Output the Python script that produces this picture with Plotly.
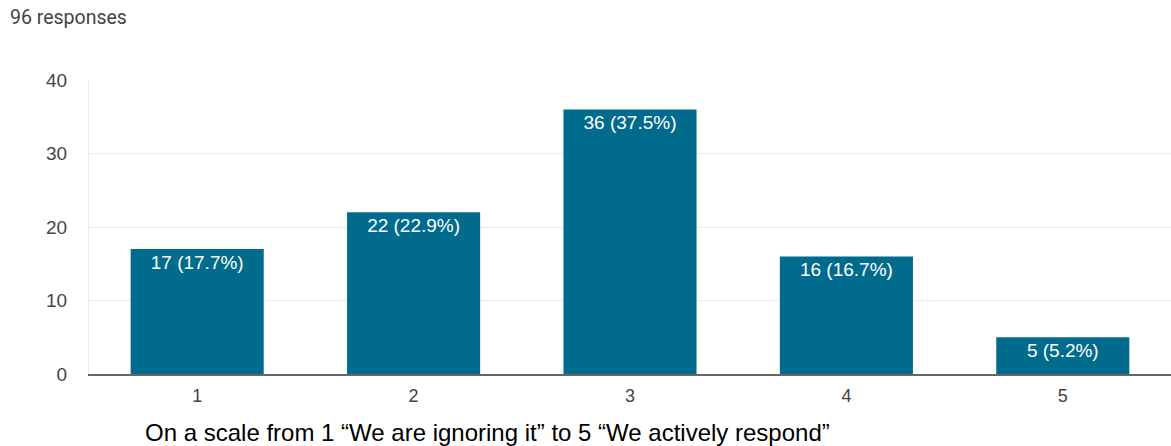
import plotly.graph_objects as go

categories = ["1", "2", "3", "4", "5"]
counts = [17, 22, 36, 16, 5]
percents = [17.7, 22.9, 37.5, 16.7, 5.2]
labels = [f"{c} ({p}%)" for c, p in zip(counts, percents)]
y_ticks = [0, 10, 20, 30, 40]
response_note = "96 responses"
x_title = "On a scale from 1 \u201cWe are ignoring it\u201d to 5 \u201cWe actively respond\u201d"

W, H = 1171, 446
ml, mr, mt, mb = 89, 0, 80, 72
ARIAL = "Liberation Sans, Arial"

fig = go.Figure(go.Bar(
    x=categories, y=counts, text=labels,
    textposition="inside", insidetextanchor="end",
    textfont=dict(family=ARIAL, size=19, color="white"),
    marker=dict(color="#006b8c", line=dict(width=0)),
    width=0.615, cliponaxis=False,
))

fig.update_layout(
    width=W, height=H,
    margin=dict(l=ml, r=mr, t=mt, b=mb, pad=0),
    plot_bgcolor="white", paper_bgcolor="white",
    showlegend=False,
    uniformtext=dict(minsize=19, mode="show"),
    xaxis=dict(
        type="category", range=[-0.5, 4.5],
        tickfont=dict(family=ARIAL, size=18, color="#444444"),
        showgrid=False, ticks="outside", ticklen=4, tickcolor="rgba(0,0,0,0)",
        showline=True, linecolor="#666666", linewidth=2,
        zeroline=False,
    ),
    yaxis=dict(
        range=[0, 40], tickvals=y_ticks,
        tickfont=dict(family=ARIAL, size=19, color="#444444"),
        showgrid=True, gridcolor="#ebebeb", gridwidth=1,
        zeroline=False, showline=True, linecolor="#ebebeb",
        ticks="outside", ticklen=17, tickcolor="rgba(0,0,0,0)",
    ),
    annotations=[
        dict(text=response_note, xref="paper", yref="paper",
             x=-(ml - 8) / (W - ml - mr), y=1 + (mt - 17) / (H - mt - mb),
             xanchor="left", yanchor="middle", showarrow=False,
             font=dict(family="Roboto", size=19.5, color="#444444")),
        dict(text=x_title, xref="paper", yref="paper",
             x=(143 - ml) / (W - ml - mr), y=-(432 - (H - mb)) / (H - mt - mb),
             xanchor="left", yanchor="middle", showarrow=False,
             font=dict(family=ARIAL, size=24, color="#000000")),
    ],
)

fig.write_html(
    "out.html",
    config={"displayModeBar": False},
    post_script="document.body.style.margin='0';document.body.style.overflow='hidden';",
)
